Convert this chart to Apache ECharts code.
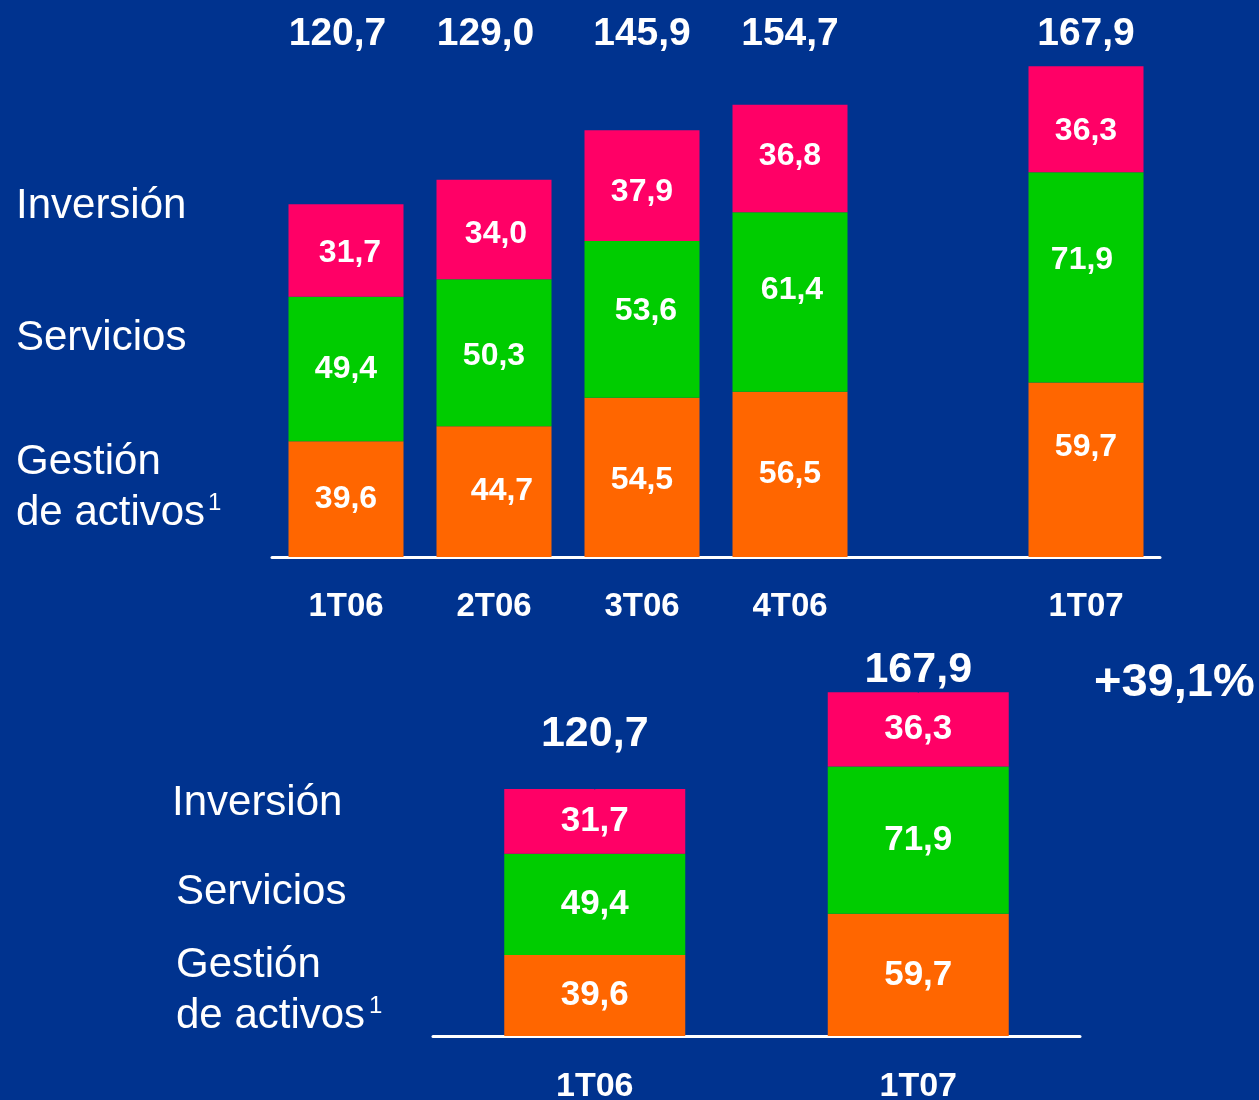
<!DOCTYPE html>
<html>
<head>
<meta charset="utf-8">
<script src="https://cdn.jsdelivr.net/npm/echarts@6/dist/echarts.min.js"></script>
<style>
  html, body { margin: 0; padding: 0; background: #00338F; }
  #chart { width: 1259px; height: 1100px; }
</style>
</head>
<body>
<div id="chart"></div>
<script>
// quarterly chart (top)
var quarters = ['1T06', '2T06', '3T06', '4T06', '', '1T07'];
var gestion = [39.6, 44.7, 54.5, 56.5, null, 59.7];
var servicios = [49.4, 50.3, 53.6, 61.4, null, 71.9];
var inversion = [31.7, 34.0, 37.9, 36.8, null, 36.3];
var totals = [120.7, 129.0, 145.9, 154.7, null, 167.9];

// comparison chart (bottom)
var years = ['1T06', '1T07'];
var gestion2 = [39.6, 59.7];
var servicios2 = [49.4, 71.9];
var inversion2 = [31.7, 36.3];
var totals2 = [120.7, 167.9];
var growth = '+39,1%';

var ORANGE = '#FF6600', GREEN = '#00CC00', PINK = '#FF0066', BG = '#00338F';
var FONT = 'Liberation Sans, Arial, sans-serif';

// label nudges, the slide didn't center them exactly
var nudgeGestion = [[0, 0], [8, 0], [0, 3], [0, 0], [0, 0], [0, -23]];
var nudgeServicios = [[0, 0], [0, 3], [4, -8], [2, -12], [0, 0], [-4, -17]];
var nudgeInversion = [[4, 3], [2, 5], [0, 7], [0, -2], [0, 0], [0, 12]];

function fmt(v) {
  return v == null ? '' : v.toFixed(1).replace('.', ',');
}

var chart = echarts.init(document.getElementById('chart'), null, { renderer: 'canvas' });

function barSeries(name, data, color, axisIdx, width, size, nudge) {
  return {
    name: name,
    type: 'bar',
    stack: 'g' + axisIdx,
    xAxisIndex: axisIdx,
    yAxisIndex: axisIdx,
    barWidth: width,
    data: data.map(function (v, i) {
      return nudge ? { value: v, label: { offset: nudge[i] } } : v;
    }),
    itemStyle: { color: color },
    label: {
      show: true,
      position: 'inside',
      color: '#fff',
      fontFamily: FONT,
      fontWeight: 'bold',
      fontSize: size,
      formatter: function (p) { return fmt(p.value); }
    },
    animation: false
  };
}

var leftLabel = { fill: '#fff', fontFamily: FONT, fontSize: 42 };

var option = {
  backgroundColor: BG,
  animation: false,
  grid: [
    { left: 272, right: 99, top: 60, bottom: 543, outerBoundsMode: 'none' },
    { left: 433, right: 179, top: 688, bottom: 64, outerBoundsMode: 'none' }
  ],
  xAxis: [
    {
      type: 'category', gridIndex: 0, data: quarters,
      axisLine: { lineStyle: { color: '#fff', width: 3 } },
      axisTick: { show: false },
      axisLabel: { color: '#fff', fontFamily: FONT, fontWeight: 'bold', fontSize: 33, margin: 33 }
    },
    {
      type: 'category', gridIndex: 1, data: years,
      axisLine: { lineStyle: { color: '#fff', width: 3 } },
      axisTick: { show: false },
      axisLabel: { color: '#fff', fontFamily: FONT, fontWeight: 'bold', fontSize: 34, margin: 34 }
    },
    {
      type: 'category', gridIndex: 0, position: 'top',
      data: totals.map(function (v, i) {
        // first two totals sit a little left of their bars on the slide
        return { value: fmt(v), textStyle: { padding: [0, i < 2 ? 17 : 0, 0, 0] } };
      }),
      axisLine: { show: false },
      axisTick: { show: false },
      axisLabel: { color: '#fff', fontFamily: FONT, fontWeight: 'bold', fontSize: 39, margin: 6 }
    }
  ],
  yAxis: [
    { type: 'value', gridIndex: 0, min: 0, max: 170, show: false },
    { type: 'value', gridIndex: 1, min: 0, max: 170, show: false }
  ],
  series: [
    barSeries('Gestión de activos', gestion, ORANGE, 0, 115, 32, nudgeGestion),
    barSeries('Servicios', servicios, GREEN, 0, 115, 32, nudgeServicios),
    barSeries('Inversión', inversion, PINK, 0, 115, 32, nudgeInversion),
    barSeries('Gestión de activos', gestion2, ORANGE, 1, 181, 35),
    barSeries('Servicios', servicios2, GREEN, 1, 181, 35),
    barSeries('Inversión', inversion2, PINK, 1, 181, 35),
    {
      name: 'Total',
      type: 'scatter',
      xAxisIndex: 1,
      yAxisIndex: 1,
      symbolSize: 1,
      itemStyle: { color: BG, opacity: 1 },
      emphasis: { disabled: true },
      data: totals2.map(function (v, i) {
        return { value: v, label: { distance: i === 0 ? 33 : 0 } };
      }),
      label: {
        show: true,
        position: 'top',
        color: '#ffffff',
        opacity: 1,
        fontFamily: FONT,
        fontWeight: 'bold',
        fontSize: 43,
        formatter: function (p) { return fmt(p.value); }
      }
    }
  ],
  graphic: [
    { type: 'text', left: 16, top: 185, style: Object.assign({ text: 'Inversión' }, leftLabel) },
    { type: 'text', left: 16, top: 317, style: Object.assign({ text: 'Servicios' }, leftLabel) },
    { type: 'text', left: 16, top: 437, style: Object.assign({ text: 'Gestión\nde activos', lineHeight: 51 }, leftLabel) },
    { type: 'text', left: 208, top: 491, style: { text: '1', fill: '#fff', fontFamily: FONT, fontSize: 24 } },
    { type: 'text', left: 172, top: 782, style: Object.assign({ text: 'Inversión' }, leftLabel) },
    { type: 'text', left: 176, top: 871, style: Object.assign({ text: 'Servicios' }, leftLabel) },
    { type: 'text', left: 176, top: 940, style: Object.assign({ text: 'Gestión\nde activos', lineHeight: 51 }, leftLabel) },
    { type: 'text', left: 369, top: 994, style: { text: '1', fill: '#fff', fontFamily: FONT, fontSize: 24 } },
    { type: 'text', left: 1094, top: 660, style: { text: growth, fill: '#fff', fontFamily: FONT, fontWeight: 'bold', fontSize: 47 } }
  ]
};

chart.setOption(option);
</script>
</body>
</html>
